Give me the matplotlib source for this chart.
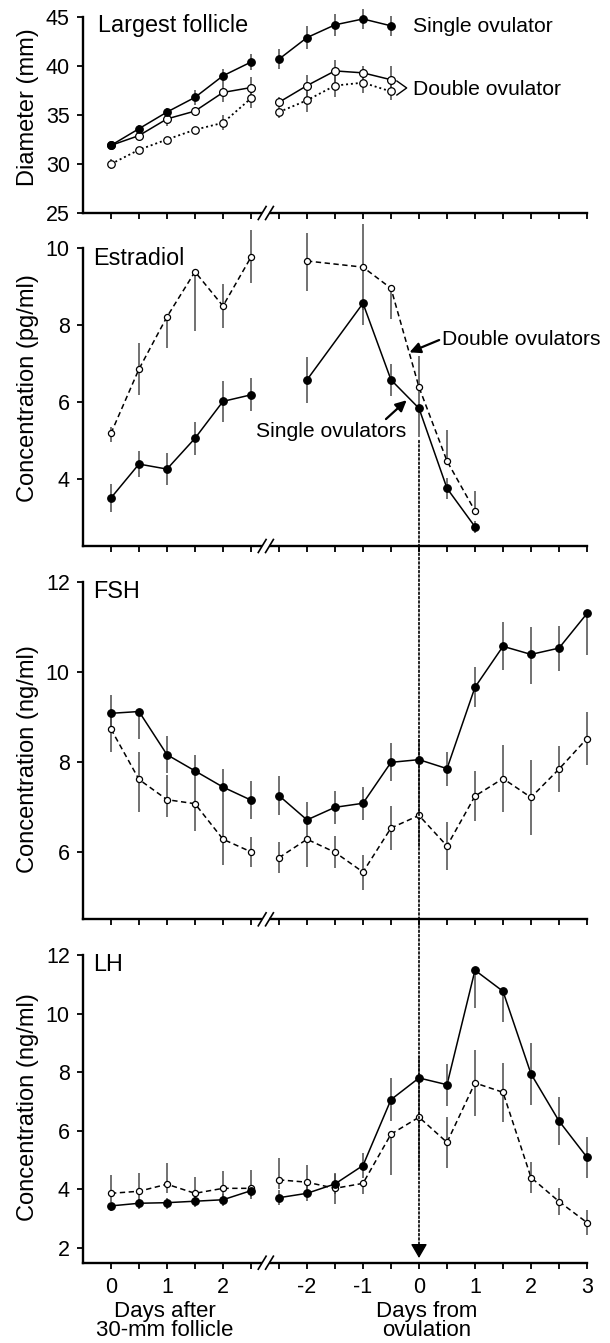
import matplotlib
matplotlib.use('Agg')
import matplotlib.pyplot as plt
from matplotlib.patches import ConnectionPatch
from matplotlib.transforms import blended_transform_factory
import numpy as np

plt.rcParams['font.family'] = ['Liberation Sans', 'DejaVu Sans']

# --- days (two time bases, split by an axis break) ---
days_after = [0, 0.5, 1, 1.5, 2, 2.5]
days_from = [-2.5, -2, -1.5, -1, -0.5, 0, 0.5, 1, 1.5, 2, 2.5, 3]
fol_right_days = [-2.5, -2, -1.5, -1, -0.5]
e2_right_days = [-2, -1, -0.5, 0, 0.5, 1]

# --- largest follicle (mm), mean and SEM ---
fol_single = [31.9, 33.6, 35.3, 36.8, 39.0, 40.4, 40.7, 42.9, 44.2, 44.8, 44.1]
fol_single_se = [0.2, 0.4, 0.4, 0.8, 0.7, 0.85, 1.0, 1.15, 1.1, 1.0, 1.0]
fol_double_a = [31.9, 32.9, 34.6, 35.4, 37.3, 37.8, 36.3, 38.0, 39.5, 39.3, 38.6]
fol_double_a_se = [0.0, 0.4, 0.75, 0.45, 1.0, 1.1, 0.5, 1.1, 1.1, 0.75, 1.35]
fol_double_b = [30.0, 31.45, 32.5, 33.5, 34.2, 36.7, 35.3, 36.5, 38.0, 38.3, 37.4]
fol_double_b_se = [0.5, 0.2, 0.15, 0.15, 0.75, 1.0, 0.6, 1.2, 1.2, 1.1, 0.9]

# --- estradiol (pg/ml) ---
e2_single = [3.51, 4.39, 4.26, 5.06, 6.02, 6.19, 6.58, 8.57, 6.58, 5.84, 3.76, 2.76]
e2_single_lo = [0.37, 0.34, 0.42, 0.43, 0.54, 0.43, 0.6, 0.57, 0.41, 0.74, 0.27, 0.15]
e2_single_hi = [0.37, 0.34, 0.41, 0.43, 0.54, 0.43, 0.6, 0.0, 0.41, 0.0, 0.27, 0.15]
e2_double = [5.19, 6.86, 8.22, 9.39, 8.50, 9.77, 9.67, 9.51, 8.96, 6.39, 4.47, 3.17]
e2_double_lo = [0.22, 0.67, 0.82, 1.55, 0.57, 0.68, 0.77, 1.11, 0.8, 0.55, 0.0, 0.0]
e2_double_hi = [0.17, 0.68, 0.0, 0.0, 0.57, 0.71, 0.74, 1.11, 0.0, 0.8, 0.81, 0.51]

# --- FSH (ng/ml) ---
fsh_single = [9.08, 9.12, 8.16, 7.80, 7.44, 7.15, 7.25, 6.71, 6.99, 7.08, 7.99, 8.05,
              7.85, 9.66, 10.57, 10.39, 10.53, 11.30]
fsh_single_lo = [0.35, 0.6, 0.41, 0.36, 0.41, 0.43, 0.44, 0.4, 0.37, 0.37, 0.42, 0.45,
                 0.38, 0.44, 0.53, 0.65, 0.5, 0.93]
fsh_single_hi = [0.41, 0.0, 0.41, 0.36, 0.41, 0.43, 0.44, 0.4, 0.37, 0.37, 0.42, 0.45,
                 0.38, 0.44, 0.53, 0.62, 0.5, 0.0]
fsh_double = [8.73, 7.61, 7.16, 7.07, 6.28, 6.0, 5.87, 6.28, 5.99, 5.55, 6.53, 6.81,
              6.13, 7.24, 7.63, 7.21, 7.84, 8.52]
fsh_double_lo = [0.52, 0.72, 0.39, 0.6, 0.58, 0.34, 0.35, 0.62, 0.36, 0.39, 0.48, 0.7,
                 0.53, 0.55, 0.75, 0.83, 0.52, 0.6]
fsh_double_hi = [0.35, 0.6, 0.55, 0.37, 0.75, 0.34, 0.35, 0.0, 0.36, 0.39, 0.48, 0.8,
                 0.53, 0.55, 0.75, 0.83, 0.52, 0.6]

# --- LH (ng/ml) ---
lh_single = [3.43, 3.52, 3.54, 3.59, 3.64, 3.95, 3.71, 3.86, 4.18, 4.81, 7.06, 7.80,
             7.57, 11.48, 10.76, 7.94, 6.33, 5.09]
lh_single_lo = [0.18, 0.2, 0.2, 0.2, 0.2, 0.3, 0.25, 0.25, 0.35, 0.42, 0.74, 0.76,
                0.72, 1.29, 1.06, 1.05, 0.82, 0.7]
lh_single_hi = [0.1, 0.15, 0.15, 0.15, 0.2, 0.0, 0.25, 0.25, 0.35, 0.42, 0.74, 0.76,
                0.72, 0.0, 0.0, 1.05, 0.83, 0.7]
lh_double = [3.86, 3.93, 4.17, 3.86, 4.03, 4.03, 4.32, 4.24, 4.03, 4.20, 5.88, 6.46,
             5.60, 7.63, 7.31, 4.40, 3.58, 2.86]
lh_double_lo = [0.3, 0.3, 0.3, 0.2, 0.3, 0.3, 0.3, 0.3, 0.52, 0.36, 1.39, 1.8,
                0.88, 1.12, 1.0, 0.54, 0.47, 0.43]
lh_double_hi = [0.63, 0.62, 0.72, 0.55, 0.6, 0.63, 0.74, 0.59, 0.52, 0.0, 0.0, 0.6,
                0.86, 1.12, 1.0, 0.54, 0.47, 0.43]

tick_labels = {0: '0', 2: '1', 4: '2', 7: '-2', 9: '-1', 11: '0', 13: '1', 15: '2', 17: '3'}


def to_pos(left_days, right_days):
    # left block: 2 ticks per day from 0; right block starts after the break
    return np.concatenate([np.asarray(left_days) * 2, np.asarray(right_days) * 2 + 11])


def draw(ax, left_days, right_days, y, lo, hi, filled, ls, ms, lw=1.1):
    x = to_pos(left_days, right_days)
    y = np.asarray(y, float)
    n = len(left_days)
    for sl in (slice(0, n), slice(n, None)):
        ax.plot(x[sl], y[sl], color='black', lw=lw, ls=ls, zorder=2, clip_on=False)
    ax.vlines(x, y - np.asarray(lo), y + np.asarray(hi), colors='#4a4a4a', lw=1.1,
              zorder=3, clip_on=False)
    ax.plot(x, y, ls='none', marker='o', ms=ms, mfc='black' if filled else 'white',
            mec='black', mew=0.9, zorder=4, clip_on=False)


W, H = 610, 1343
fig = plt.figure(figsize=(W / 100, H / 100), dpi=100)

left = 82.7 / W
width = (587 - 82.7) / W
rects = [(17, 213), (248.3, 546), (582, 919.3), (955, 1262.7)]
axes = [fig.add_axes([left, 1 - b / H, width, (b - t) / H]) for t, b in rects]
ax1, ax2, ax3, ax4 = axes

draw(ax1, days_after, fol_right_days, fol_double_b, fol_double_b_se, fol_double_b_se,
     False, (0, (1.1, 1.6)), 5.4, lw=1.3)
draw(ax1, days_after, fol_right_days, fol_double_a, fol_double_a_se, fol_double_a_se,
     False, '-', 5.6)
draw(ax1, days_after, fol_right_days, fol_single, fol_single_se, fol_single_se,
     True, '-', 5.4)

dash = (0, (3.5, 2.3))
draw(ax2, days_after, e2_right_days, e2_double, e2_double_lo, e2_double_hi, False, dash, 4.4)
draw(ax2, days_after, e2_right_days, e2_single, e2_single_lo, e2_single_hi, True, '-', 5.4)

draw(ax3, days_after, days_from, fsh_double, fsh_double_lo, fsh_double_hi, False, dash, 4.4)
draw(ax3, days_after, days_from, fsh_single, fsh_single_lo, fsh_single_hi, True, '-', 5.4)

draw(ax4, days_after, days_from, lh_double, lh_double_lo, lh_double_hi, False, dash, 4.4)
draw(ax4, days_after, days_from, lh_single, lh_single_lo, lh_single_hi, True, '-', 5.4)

ylims = [(25, 45), (2.26, 10), (4.5, 12), (1.49, 12)]
yticks = [[25, 30, 35, 40, 45], [4, 6, 8, 10], [6, 8, 10, 12], [2, 4, 6, 8, 10, 12]]
ylabels = ['Diameter (mm)', 'Concentration (pg/ml)', 'Concentration (ng/ml)',
           'Concentration (ng/ml)']
ylab_y = [0.542, 0.53, 0.475, 0.507]
titles = ['Largest follicle', 'Estradiol', 'FSH', 'LH']
title_pos = [(0.031, 0.923), (0.021, 0.944), (0.020, 0.952), (0.021, 0.948)]

for i, ax in enumerate(axes):
    ax.set_xlim(-1.01, 17)
    ax.set_ylim(*ylims[i])
    ax.set_yticks(yticks[i])
    ax.set_xticks(range(18))
    ax.spines['top'].set_visible(False)
    ax.spines['right'].set_visible(False)
    ax.spines['left'].set_linewidth(1.7)
    ax.spines['bottom'].set_linewidth(1.7)
    ax.tick_params(axis='both', direction='out', width=1.3, labelsize=15.5, colors='black')
    ax.tick_params(axis='y', length=4.3, pad=5)
    ax.tick_params(axis='x', length=4.1, pad=6)
    if i < 3:
        ax.tick_params(axis='x', labelbottom=False)
    else:
        ax.set_xticklabels([tick_labels.get(k, '') for k in range(18)])
    ax.set_ylabel(ylabels[i], fontsize=17)
    ax.yaxis.set_label_coords(-0.087, ylab_y[i])
    tx, ty = title_pos[i]
    ax.text(tx, ty, titles[i], transform=ax.transAxes, fontsize=16.8, va='baseline', ha='left')

    # axis break marks on the bottom spine
    h_px = ax.get_position().height * H
    dy = 6.5 / h_px
    tr = blended_transform_factory(ax.transData, ax.transAxes)
    ax.plot([5.40, 5.66], [0, 0], color='white', lw=4, transform=tr, clip_on=False,
            zorder=6, solid_capstyle='butt')
    for x0 in (5.26, 5.52):
        ax.plot([x0, x0 + 0.28], [-dy, dy], color='black', lw=1.2, transform=tr,
                clip_on=False, zorder=7)

# top panel labels
ax1.text(10.77, 43.47, 'Single ovulator', fontsize=15.2, va='baseline', ha='left')
ax1.text(10.77, 37.04, 'Double ovulator', fontsize=15.2, va='baseline', ha='left')
ax1.plot([10.21, 10.56, 10.21], [38.47, 37.76, 37.04], color='black', lw=1.0, clip_on=False)

# estradiol annotations
arrow = dict(arrowstyle='-|>,head_length=0.65,head_width=0.32', color='black', lw=1.6,
             shrinkA=0, shrinkB=0)
ax2.text(11.81, 7.485, 'Double ovulators', fontsize=15.2, va='baseline', ha='left')
ax2.annotate('', xy=(10.66, 7.295), xytext=(11.72, 7.615), arrowprops=arrow)
ax2.text(5.18, 5.10, 'Single ovulators', fontsize=15.2, va='baseline', ha='left')
ax2.annotate('', xy=(10.56, 6.05), xytext=(9.82, 5.56), arrowprops=arrow)

# dotted line from the estradiol drop down to ovulation on the LH axis
con = ConnectionPatch(xyA=(11, 5.0), coordsA=ax2.transData, xyB=(11, 2.06),
                      coordsB=ax4.transData, color='black', lw=1.2,
                      linestyle=(0, (1.2, 1.4)), zorder=1)
fig.add_artist(con)
ax4.annotate('', xy=(11, 1.65), xytext=(11, 2.06),
             arrowprops=dict(arrowstyle='-|>,head_length=0.86,head_width=0.5',
                             color='black', lw=1.0, shrinkA=0, shrinkB=0, mutation_scale=10))

# x axis titles (two-line, tight spacing as in the original)
trx = blended_transform_factory(ax4.transData, fig.transFigure)
ax4.text(1.91, 1 - 1300.5 / H, 'Days after\n30-mm follicle', transform=trx, fontsize=16,
         ha='center', va='top', linespacing=0.88)
ax4.text(11.27, 1 - 1300.5 / H, 'Days from\novulation', transform=trx, fontsize=16,
         ha='center', va='top', linespacing=0.88)

fig.savefig('out.png', dpi=100)
